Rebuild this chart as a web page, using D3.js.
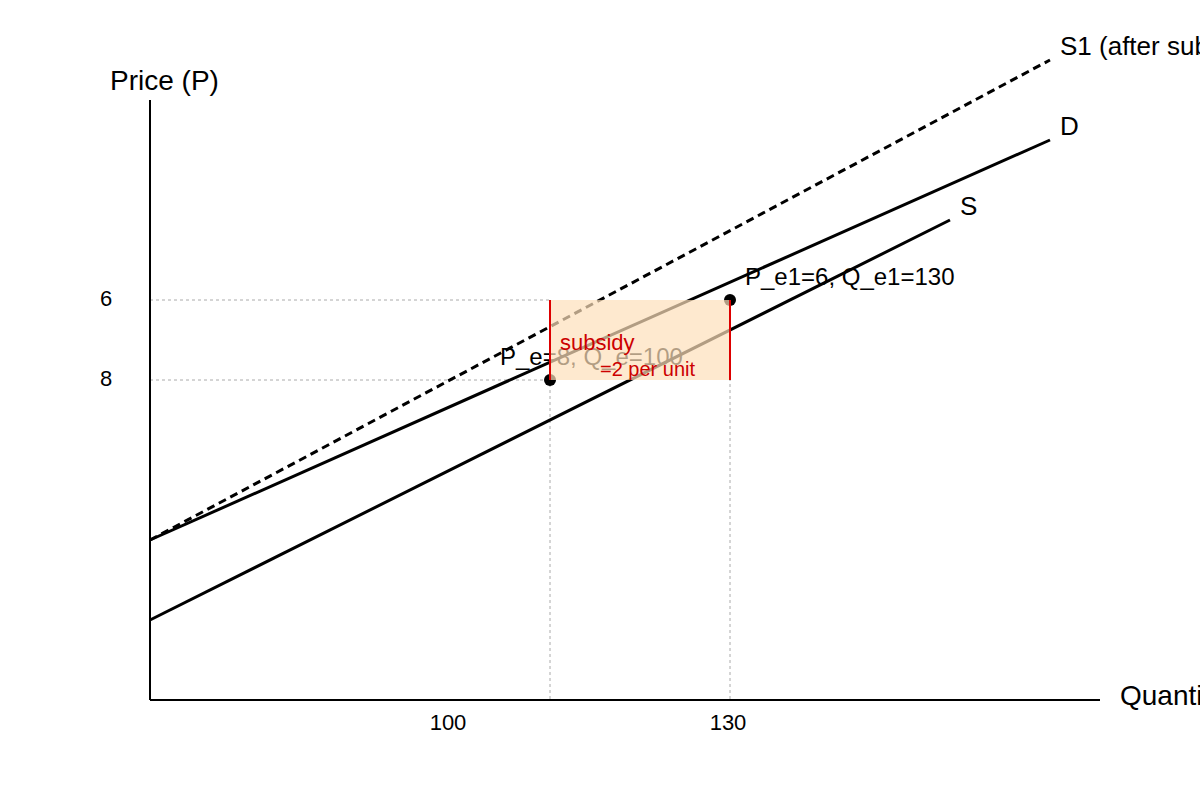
<!DOCTYPE html>
<html><head><meta charset="utf-8">
<script src="https://d3js.org/d3.v7.min.js"></script>
<style>body{margin:0;background:#fff}svg{font-family:"Liberation Sans",Arial,sans-serif}</style>
</head><body>
<svg id="c" width="1200" height="800"></svg>
<script>
// data in chart units (quantity, price-axis units)
const demandLine = [[0,160],[900,560]];
const supplyLine = [[0,80],[800,480]];
const supplySubsidyLine = [[0,160],[900,640]];
const equilibria = [{q:400,p:320,label:"P_e=8, Q_e=100"},{q:580,p:400,label:"P_e1=6, Q_e1=130"}];
const yTicks = [{v:400,label:"6"},{v:320,label:"8"}];
const xTicks = [{v:298,label:"100"},{v:578,label:"130"}];
const subsidyBox = {q0:400,q1:580,p0:320,p1:400};

const svg = d3.select("#c");
const x = d3.scaleLinear().domain([0,950]).range([150,1100]);
const y = d3.scaleLinear().domain([0,600]).range([700,100]);
const line = d3.line().x(d=>x(d[0])).y(d=>y(d[1]));

yTicks.forEach(t=>{
  svg.append("line").attr("x1",x(0)).attr("x2",x(subsidyBox.q0)).attr("y1",y(t.v)).attr("y2",y(t.v))
    .attr("stroke","#aaa").attr("stroke-dasharray","3,3");
  svg.append("text").attr("x",100).attr("y",y(t.v)+6).attr("font-size",22).text(t.label);
});
[subsidyBox.q0,subsidyBox.q1].forEach(q=>{
  svg.append("line").attr("x1",x(q)).attr("x2",x(q)).attr("y1",y(subsidyBox.p1)).attr("y2",y(0))
    .attr("stroke","#aaa").attr("stroke-dasharray","3,3");
});
xTicks.forEach(t=>svg.append("text").attr("x",x(t.v)).attr("y",730).attr("text-anchor","middle").attr("font-size",22).text(t.label));

svg.append("line").attr("x1",x(0)).attr("x2",x(950)).attr("y1",y(0)).attr("y2",y(0)).attr("stroke","#000").attr("stroke-width",2);
svg.append("line").attr("x1",x(0)).attr("x2",x(0)).attr("y1",y(0)).attr("y2",y(600)).attr("stroke","#000").attr("stroke-width",2);
svg.append("text").attr("x",110).attr("y",90).attr("font-size",28).text("Price (P)");
svg.append("text").attr("x",1120).attr("y",705).attr("font-size",28).text("Quantity (Q)");

svg.append("path").attr("d",line(supplySubsidyLine)).attr("fill","none").attr("stroke","#000").attr("stroke-width",3).attr("stroke-dasharray","8,5");
svg.append("path").attr("d",line(demandLine)).attr("fill","none").attr("stroke","#000").attr("stroke-width",3);
svg.append("path").attr("d",line(supplyLine)).attr("fill","none").attr("stroke","#000").attr("stroke-width",3);
svg.append("text").attr("x",x(910)).attr("y",y(640)-5).attr("font-size",26).text("S1 (after subsidy)");
svg.append("text").attr("x",x(910)).attr("y",y(560)-5).attr("font-size",26).text("D");
svg.append("text").attr("x",x(810)).attr("y",y(480)-5).attr("font-size",26).text("S");

equilibria.forEach(e=>svg.append("circle").attr("cx",x(e.q)).attr("cy",y(e.p)).attr("r",6).attr("fill","#000"));
svg.append("text").attr("x",x(equilibria[1].q)+15).attr("y",y(equilibria[1].p)-15).attr("font-size",24).text(equilibria[1].label);
svg.append("text").attr("x",x(equilibria[0].q)-50).attr("y",y(equilibria[0].p)-15).attr("font-size",24).text(equilibria[0].label);

svg.append("rect").attr("x",x(subsidyBox.q0)).attr("y",y(subsidyBox.p1))
  .attr("width",x(subsidyBox.q1)-x(subsidyBox.q0)).attr("height",y(subsidyBox.p0)-y(subsidyBox.p1))
  .attr("fill","#fde0bb").attr("opacity",0.7);
[subsidyBox.q0,subsidyBox.q1].forEach(q=>svg.append("line").attr("x1",x(q)).attr("x2",x(q))
  .attr("y1",y(subsidyBox.p1)).attr("y2",y(subsidyBox.p0)).attr("stroke","#d00").attr("stroke-width",2));
svg.append("text").attr("x",x(subsidyBox.q0)+10).attr("y",350).attr("font-size",22).attr("fill","#c00").text("subsidy");
svg.append("text").attr("x",x(subsidyBox.q0)+50).attr("y",376).attr("font-size",20).attr("fill","#c00").text("=2 per unit");
</script>
</body></html>
